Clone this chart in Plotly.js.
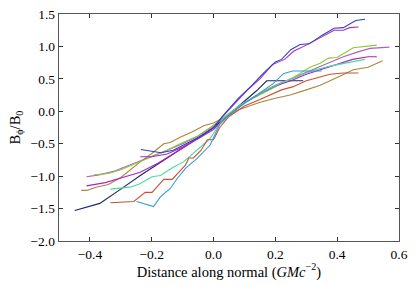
<!DOCTYPE html>
<html><head><meta charset="utf-8">
<script src="https://cdn.plot.ly/plotly-3.0.1.min.js"></script>
<style>html,body{margin:0;padding:0;background:#fff}#chart{width:415px;height:286px}</style>
</head><body><div id="chart"></div>
<script>
const navyX = [-0.449,-0.368,-0.3,-0.237,-0.15,-0.08,0,0.05,0.1,0.14,0.172,0.29];
const navyY = [-1.53,-1.42,-1.2,-0.99,-0.72,-0.5,-0.25,-0.05,0.15,0.32,0.47,0.47];
const blueX = [-0.235,-0.194,-0.17,-0.13,-0.08,-0.04,0,0.03,0.08,0.12,0.16,0.2,0.22,0.25,0.28,0.31,0.35,0.39,0.42,0.46,0.49];
const blueY = [-0.59,-0.62,-0.64,-0.6,-0.48,-0.38,-0.25,-0.07,0.2,0.38,0.58,0.76,0.8,0.95,1.03,1.04,1.17,1.28,1.29,1.40,1.42];
const purpleX = [-0.237,-0.2,-0.15,-0.1,-0.05,0,0.03,0.07,0.11,0.15,0.19,0.23,0.26,0.3,0.34,0.39,0.42,0.44,0.469];
const purpleY = [-0.70,-0.70,-0.66,-0.55,-0.42,-0.25,-0.08,0.12,0.33,0.5,0.72,0.8,0.93,1.02,1.12,1.25,1.25,1.29,1.30];
const cyanX = [-0.249,-0.194,-0.172,-0.14,-0.118,-0.091,-0.054,-0.011,0.02,0.06,0.1,0.15,0.194,0.226,0.255,0.35];
const cyanY = [-1.39,-1.47,-1.32,-1.19,-1.04,-0.88,-0.73,-0.52,-0.2,-0.02,0.12,0.28,0.43,0.58,0.62,0.62];
const redX = [-0.334,-0.258,-0.221,-0.199,-0.178,-0.161,-0.134,-0.091,-0.08,-0.065,-0.04,-0.02,0.0,0.02,0.05,0.1,0.15,0.194,0.22,0.258,0.3,0.345,0.377,0.42,0.469];
const redY = [-1.41,-1.39,-1.25,-1.25,-1.14,-1.05,-1.05,-0.83,-0.72,-0.72,-0.6,-0.44,-0.44,-0.25,-0.08,0.08,0.18,0.27,0.33,0.38,0.47,0.53,0.57,0.59,0.59];
const tealX = [-0.334,-0.27,-0.24,-0.199,-0.172,-0.129,-0.097,-0.065,-0.03,-0.011,0.03,0.08,0.13,0.18,0.23,0.28,0.33,0.38,0.43,0.49];
const tealY = [-1.2,-1.17,-1.12,-1.01,-0.99,-0.86,-0.78,-0.65,-0.5,-0.42,-0.12,0.08,0.22,0.35,0.46,0.55,0.64,0.7,0.75,0.80];
const greenX = [-0.387,-0.34,-0.3,-0.237,-0.2,-0.15,-0.1,-0.05,0,0.05,0.1,0.15,0.2,0.25,0.312,0.345,0.372,0.4,0.452,0.528];
const greenY = [-0.98,-0.96,-0.9,-0.77,-0.7,-0.6,-0.48,-0.38,-0.22,-0.03,0.13,0.26,0.38,0.5,0.68,0.74,0.82,0.83,0.98,1.02];
const violetX = [-0.411,-0.37,-0.32,-0.27,-0.22,-0.16,-0.1,-0.05,0,0.05,0.1,0.15,0.2,0.25,0.3,0.35,0.42,0.47,0.506,0.569];
const violetY = [-1.01,-0.98,-0.92,-0.83,-0.73,-0.62,-0.5,-0.38,-0.22,-0.04,0.13,0.28,0.4,0.5,0.6,0.7,0.84,0.92,0.97,0.99];
const magentaX = [-0.411,-0.35,-0.3,-0.237,-0.18,-0.12,-0.06,0,0.05,0.1,0.15,0.2,0.25,0.3,0.35,0.4,0.45,0.5,0.528];
const magentaY = [-1.15,-1.1,-1.03,-0.94,-0.8,-0.62,-0.45,-0.28,-0.05,0.13,0.27,0.39,0.47,0.57,0.65,0.72,0.8,0.84,0.84];
const brownX = [-0.428,-0.41,-0.38,-0.34,-0.3,-0.27,-0.237,-0.2,-0.161,-0.14,-0.108,-0.07,-0.03,0,0.04,0.08,0.12,0.151,0.2,0.248,0.3,0.345,0.4,0.452,0.5,0.547];
const brownY = [-1.22,-1.22,-1.17,-1.13,-1.02,-0.9,-0.78,-0.65,-0.5,-0.48,-0.4,-0.32,-0.22,-0.18,-0.08,0.02,0.09,0.14,0.2,0.25,0.33,0.40,0.52,0.64,0.68,0.78];

const series = [
  [navyX, navyY, '#1c2466'],
  [brownX, brownY, '#a8863a'],
  [violetX, violetY, '#b05cc8'],
  [greenX, greenY, '#8acb2e'],
  [magentaX, magentaY, '#b01ec8'],
  [tealX, tealY, '#48dc98'],
  [redX, redY, '#cc5030'],
  [cyanX, cyanY, '#3a9ad8'],
  [purpleX, purpleY, '#a030c0'],
  [blueX, blueY, '#3040c8']
];
const traces = series.map(s => ({x: s[0], y: s[1], type: 'scatter', mode: 'lines',
  line: {color: s[2], width: 1.1}, hoverinfo: 'skip'}));

const tickFont = {family: 'Liberation Serif, serif', size: 13.5, color: '#000'};
const titleFont = {family: 'Liberation Serif, serif', size: 14.5, color: '#000'};
const layout = {
  width: 415, height: 286,
  margin: {l: 58.5, r: 16, t: 14, b: 45.3},
  paper_bgcolor: '#fff', plot_bgcolor: '#fff',
  showlegend: false,
  xaxis: {range: [-0.5, 0.6], dtick: 0.2, tick0: 0, tickformat: '.1f',
    showgrid: false, zeroline: false, showline: true, mirror: 'ticks',
    linecolor: '#555', linewidth: 1.3, ticks: 'inside', ticklen: 4, tickcolor: '#333',
    tickfont: tickFont,
    title: {text: 'Distance along normal (<i>GMc</i><sup>−2</sup>)', font: titleFont, standoff: 4}},
  yaxis: {range: [-2.0, 1.5], dtick: 0.5, tick0: 0, tickformat: '.1f',
    showgrid: false, zeroline: false, showline: true, mirror: 'ticks',
    linecolor: '#555', linewidth: 1.3, ticks: 'inside', ticklen: 4, tickcolor: '#333',
    tickfont: tickFont,
    title: {text: 'B<sub>ϕ</sub>/B<sub>0</sub>', font: titleFont, standoff: 6}}
};
Plotly.newPlot('chart', traces, layout, {displayModeBar: false, staticPlot: true});
</script></body></html>
